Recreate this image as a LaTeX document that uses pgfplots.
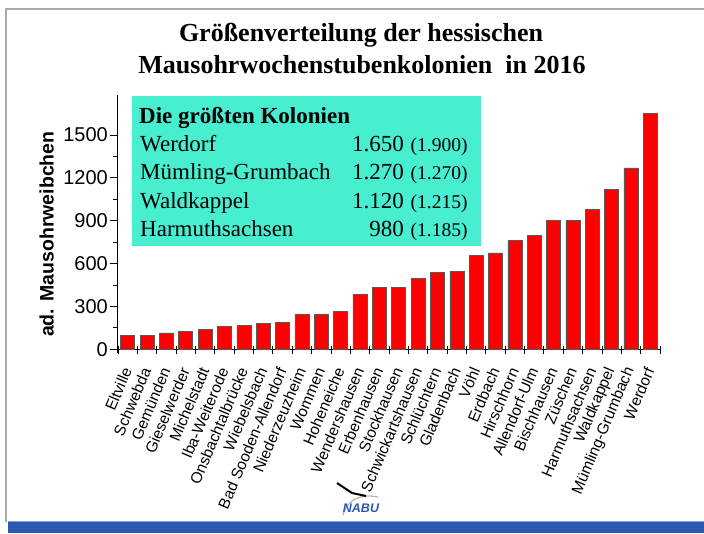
\documentclass[border=0pt]{standalone}
\usepackage{fontspec}
\setmainfont{Liberation Sans}
\newfontfamily\serif{Liberation Serif}
\usepackage{pgfplots}
\pgfplotsset{compat=1.18}
\usetikzlibrary{calc}
\definecolor{barred}{RGB}{255,0,0}
\definecolor{boxcyan}{RGB}{72,238,208}
\definecolor{nabublue}{RGB}{44,88,178}
\definecolor{nabulight}{RGB}{130,160,215}
\definecolor{bordergray}{RGB}{170,170,170}
\begin{document}
\begin{tikzpicture}
\begin{axis}[
  width=542pt, height=254.3pt, scale only axis,
  xmin=0.5, xmax=28.5, ymin=0, ymax=1780,
  axis x line*=bottom, axis y line*=left,
  x axis line style={-, line width=1pt},
  y axis line style={-, line width=1pt},
  ybar, bar width=14pt,
  xtick={0.5,1.5,...,28.5},
  xticklabels={Eltville,Schwebda,Gemünden,Gieselwerder,Michelstadt,Iba-Weiterode,Onsbachtalbrücke,Wiebelsbach,Bad Sooden-Allendorf,Niederzeuzheim,Wommen,Hoheneiche,Wendershausen,Erbenhausen,Stockhausen,Schwickartshausen,Schlüchtern,Gladenbach,Vöhl,Erdbach,Hirschhorn,Allendorf-Ulm,Bischhausen,Züschen,Harmuthsachsen,Waldkappel,Mümling-Grumbach,Werdorf,{}},
  xticklabel style={font=\fontsize{15.5}{15.5}\selectfont, xshift=9.5pt, yshift=-10pt, rotate=67, anchor=east, inner sep=1pt},
  xtick style={yshift=3pt},
  ytick={0,300,...,1500},
  minor y tick num=1,
  yticklabel style={font=\fontsize{20}{20}\selectfont, inner sep=2pt},
  /pgf/number format/assume math mode=true,
  /pgf/number format/1000 sep={},
  scaled y ticks=false,
  tick align=outside,
  major tick length=8pt, minor tick length=5pt,
  tick style={black, line width=0.8pt},
  ylabel={ad. Mausohrweibchen},
  ylabel style={font=\bfseries\fontsize{19.5}{19.5}\selectfont, at={(axis description cs:-0.1315,0.4526)}, anchor=center},
  clip=false,
]
\addplot[fill=barred, draw=black!65, line width=0.5pt] coordinates {
(1,95) (2,95) (3,115) (4,125) (5,140) (6,160) (7,170) (8,180) (9,190) (10,245)
(11,245) (12,265) (13,385) (14,435) (15,435) (16,495) (17,540) (18,545) (19,655) (20,675)
(21,765) (22,795) (23,900) (24,900) (25,980) (26,1120) (27,1270) (28,1650)
};
\coordinate (O) at (axis cs:0.5,0);
\end{axis}
\pgfresetboundingbox
\begin{scope}[x=1pt,y=1pt,shift={($(O)+(-118pt,-183.7pt)$)}]
\path[use as bounding box] (0,0) rectangle (704,533);
\draw[line width=1pt] (112,183.7) -- (118,183.7) -- (118,180.5);
\fill[nabublue] (8,0) rectangle (704,11.5);
\draw[nabulight, line width=1pt] (8,11.5) -- (704,11.5);
\draw[bordergray, line width=2pt] (6.5,11.5) -- (6.5,524) -- (704,524);
\node[font=\serif\bfseries\fontsize{26}{26}\selectfont, anchor=base] at (361,491.3) {Größenverteilung der hessischen};
\node[font=\serif\bfseries\fontsize{26}{26}\selectfont, anchor=base] at (362,459.7) {Mausohrwochenstubenkolonien\ \ in 2016};
\fill[boxcyan] (132,287) rectangle (481,437);
\node[font=\serif\bfseries\fontsize{23}{23}\selectfont, anchor=base west, inner sep=0pt] at (139,409.7) {Die größten Kolonien};
\begin{scope}[every node/.style={font=\serif\fontsize{23}{23}\selectfont, inner sep=0pt}]
\node[anchor=base west] at (140,381.3) {Werdorf};
\node[anchor=base west] at (140,353) {Mümling-Grumbach};
\node[anchor=base west] at (140,324.7) {Waldkappel};
\node[anchor=base west] at (140,296.3) {Harmuthsachsen};
\node[anchor=base east] at (404,381.3) {1.650};
\node[anchor=base east] at (404,353) {1.270};
\node[anchor=base east] at (404,324.7) {1.120};
\node[anchor=base east] at (404,296.3) {980};
\end{scope}
\begin{scope}[every node/.style={font=\serif\fontsize{19.5}{19.5}\selectfont, inner sep=0pt, anchor=base west}]
\node at (410.5,381.3) {(1.900)};
\node at (410.5,353) {(1.270)};
\node at (410.5,324.7) {(1.215)};
\node at (410.5,296.3) {(1.185)};
\end{scope}
% NABU logo
\draw[gray!60, line width=1.2pt] (343,18) .. controls (346,32) and (360,40) .. (378,36);
\draw[black, line width=2pt] (337,50) -- (352,40) -- (366,37);
\node[font=\bfseries\itshape\fontsize{12.5}{12.5}\selectfont, text=nabublue, inner sep=0pt] at (361,25) {NABU};
\end{scope}
\end{tikzpicture}
\end{document}
